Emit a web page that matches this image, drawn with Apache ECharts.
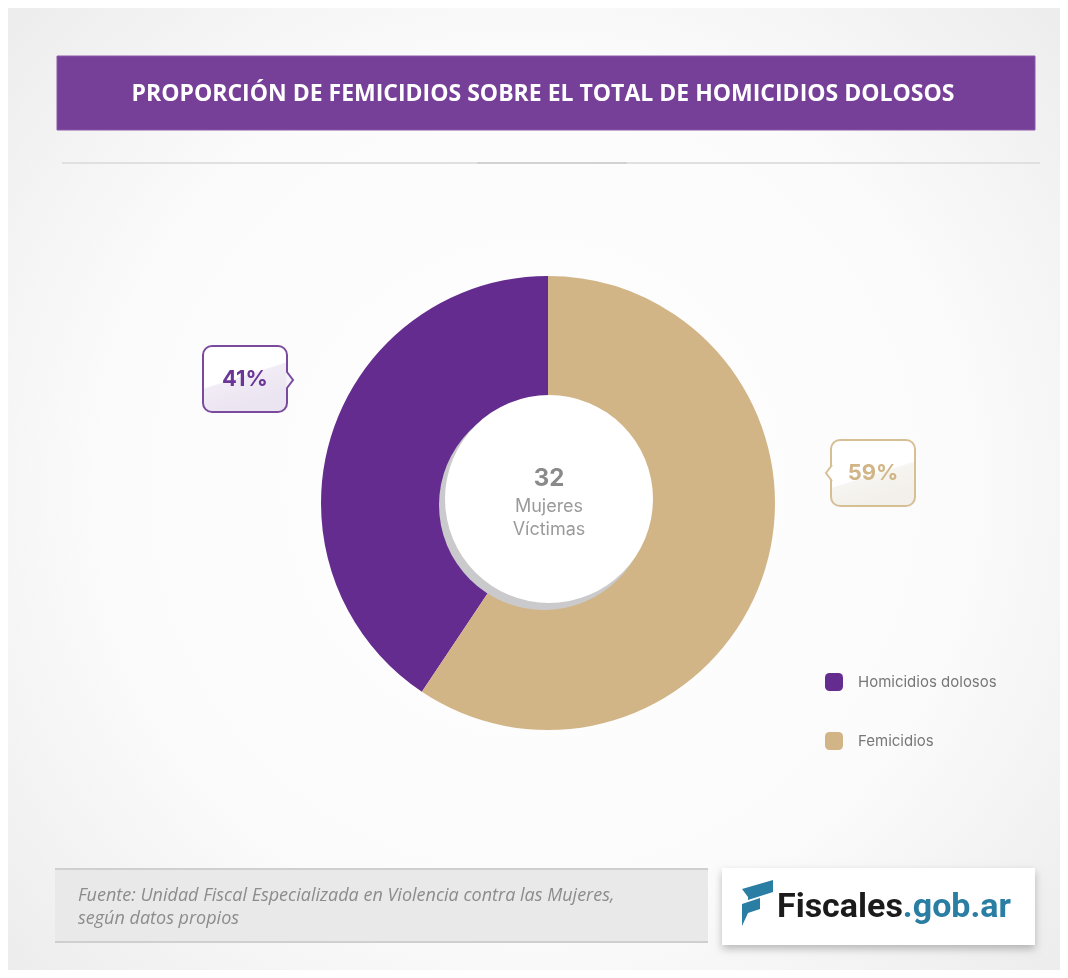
<!DOCTYPE html>
<html>
<head>
<meta charset="utf-8">
<script src="https://cdn.jsdelivr.net/npm/echarts@6/dist/echarts.min.js"></script>
<style>
html,body{margin:0;padding:0;background:#fff;}
#chart{width:1068px;height:978px;}
</style>
</head>
<body>
<div id="chart"></div>
<script>
// ---- data ----
const categories = ['Homicidios dolosos', 'Femicidios'];
const values = [13, 19];
const colors = ['#652c8f', '#d2b587'];
const titleText = 'PROPORCIÓN DE FEMICIDIOS SOBRE EL TOTAL DE HOMICIDIOS DOLOSOS';
const centerLabel = ['Mujeres', 'Víctimas'];
const sourceLines = ['Fuente: Unidad Fiscal Especializada en Violencia contra las Mujeres,', 'según datos propios'];

const total = values.reduce((a, b) => a + b, 0);
const chart = echarts.init(document.getElementById('chart'), null, {renderer: 'canvas'});

const CX = 548, CY = 503;
const labelPos = [{x: 245, y: 379}, {x: 873, y: 473}];
const labelBorder = ['#7a4a9f', '#d7bf95'];
const labelFill = [
  {type: 'linear', x: 0, y: 0, x2: 0.25, y2: 1, colorStops: [{offset: 0, color: '#ffffff'}, {offset: 0.58, color: '#ffffff'}, {offset: 0.6, color: '#f1ecf6'}, {offset: 1, color: '#ebe4f1'}]},
  {type: 'linear', x: 0, y: 0, x2: 0.25, y2: 1, colorStops: [{offset: 0, color: '#ffffff'}, {offset: 0.65, color: '#ffffff'}, {offset: 0.67, color: '#f7f5f1'}, {offset: 1, color: '#f3f0eb'}]}
];

const option = {
  backgroundColor: '#ffffff',
  graphic: [
    {type: 'rect', z: -10, shape: {x: 8, y: 8, width: 1052, height: 962},
     style: {fill: {type: 'radial', x: 0.5, y: 0.5, r: 0.75, colorStops: [{offset: 0, color: '#ffffff'}, {offset: 0.6, color: '#fbfbfb'}, {offset: 1, color: '#ececec'}]}}},
    // title bar
    {type: 'rect', z: 1, shape: {x: 57, y: 56, width: 978, height: 74}, style: {fill: '#763f98', stroke: '#8a5aab', lineWidth: 1}},
    {type: 'text', z: 2, x: 543, y: 94, style: {text: titleText, fill: '#ffffff', font: 'bold 23px "Open Sans"', align: 'center', verticalAlign: 'middle'}},
    // divider
    {type: 'line', z: 1, shape: {x1: 62, y1: 163, x2: 1040, y2: 163}, style: {stroke: '#e0e0e0', lineWidth: 2}},
    {type: 'line', z: 1, shape: {x1: 477, y1: 163, x2: 627, y2: 163}, style: {stroke: '#d2d2d2', lineWidth: 2}},
    // inner circle with shadow
    {type: 'circle', z: 20, shape: {cx: CX - 4, cy: CY + 2, r: 105}, style: {fill: '#cacacc'}},
    {type: 'circle', z: 21, shape: {cx: CX + 1, cy: CY - 4, r: 104}, style: {fill: '#ffffff'}},
    {type: 'text', z: 22, x: CX + 1, y: 479, style: {text: String(total), fill: '#8a8a8a', font: 'bold 24px "Inter"', align: 'center', verticalAlign: 'middle'}},
    {type: 'text', z: 22, x: CX + 1, y: 507, style: {text: centerLabel[0], fill: '#9a9a9a', font: '18px "Inter"', align: 'center', verticalAlign: 'middle'}},
    {type: 'text', z: 22, x: CX + 1, y: 530, style: {text: centerLabel[1], fill: '#9a9a9a', font: '18px "Inter"', align: 'center', verticalAlign: 'middle'}},
    // label pointers
    {type: 'polygon', z: 200, shape: {points: [[286, 372], [293, 380], [286, 388]]}, style: {fill: '#f5f1f8', stroke: null}},
    {type: 'polyline', z: 201, shape: {points: [[287, 372], [293, 380], [287, 388]]}, style: {stroke: labelBorder[0], lineWidth: 2, fill: null}},
    {type: 'polygon', z: 200, shape: {points: [[833, 465], [826, 473], [833, 481]]}, style: {fill: '#ffffff', stroke: null}},
    {type: 'polyline', z: 201, shape: {points: [[832, 465], [826, 473], [832, 481]]}, style: {stroke: labelBorder[1], lineWidth: 2, fill: null}},
    // source box
    {type: 'rect', z: 1, shape: {x: 55, y: 869, width: 653, height: 73}, style: {fill: '#e9e9e9'}},
    {type: 'line', z: 2, shape: {x1: 55, y1: 869, x2: 708, y2: 869}, style: {stroke: '#cfcfcf', lineWidth: 2}},
    {type: 'line', z: 2, shape: {x1: 55, y1: 942, x2: 708, y2: 942}, style: {stroke: '#cfcfcf', lineWidth: 2}},
    {type: 'text', z: 3, x: 78, y: 896, style: {text: sourceLines[0], fill: '#8c8c8c', font: 'italic 18px "Open Sans"', verticalAlign: 'middle'}},
    {type: 'text', z: 3, x: 78, y: 919, style: {text: sourceLines[1], fill: '#8c8c8c', font: 'italic 18px "Open Sans"', verticalAlign: 'middle'}},
    // logo box
    {type: 'rect', z: 1, shape: {x: 722, y: 868, width: 313, height: 77}, style: {fill: '#ffffff', shadowBlur: 8, shadowOffsetY: 4, shadowColor: 'rgba(0,0,0,0.25)'}},
    {type: 'polygon', z: 2, shape: {points: [[742, 889], [773, 880], [773, 892], [748, 900], [748, 897]]}, style: {fill: '#2b7ea3'}},
    {type: 'polygon', z: 2, shape: {points: [[742, 904], [760, 898], [760, 909], [748, 913], [742, 926]]}, style: {fill: '#2b7ea3'}},
    {type: 'text', z: 3, x: 777, y: 908, style: {
      text: '{a|Fiscales}{b|.gob.ar}', verticalAlign: 'middle',
      rich: {a: {fill: '#1b1b1b', font: 'bold 34px "Roboto"'}, b: {fill: '#2b7ea3', font: 'bold 34px "Roboto"'}}
    }}
  ],
  legend: {
    orient: 'vertical',
    left: 820,
    top: 668,
    itemWidth: 18,
    itemHeight: 18,
    itemGap: 41,
    icon: 'roundRect',
    data: categories,
    textStyle: {color: '#777777', fontSize: 15, fontFamily: 'Inter', padding: [0, 0, 0, 10]}
  },
  series: [{
    type: 'pie',
    center: [CX, CY],
    radius: [95, 227],
    startAngle: 90,
    clockwise: false,
    z: 5,
    silent: true,
    label: {
      show: true,
      formatter: function (p) { return Math.round(p.percent) + '%'; },
      fontSize: 22,
      fontWeight: 'bold',
      fontFamily: 'Inter',
      width: 50,
      overflow: 'none',
      align: 'center',
      padding: [21, 16],
      borderWidth: 2,
      borderRadius: 8
    },
    labelLine: {show: false},
    labelLayout: function (p) {
      const pos = labelPos[p.dataIndex];
      return {x: pos.x, y: pos.y, align: 'center', verticalAlign: 'middle'};
    },
    data: categories.map((c, i) => ({
      name: c,
      value: values[i],
      itemStyle: {color: colors[i]},
      label: {color: i === 0 ? '#6a3796' : '#d2b587', borderColor: labelBorder[i], backgroundColor: labelFill[i]}
    }))
  }]
};
chart.setOption(option);
</script>
</body>
</html>
